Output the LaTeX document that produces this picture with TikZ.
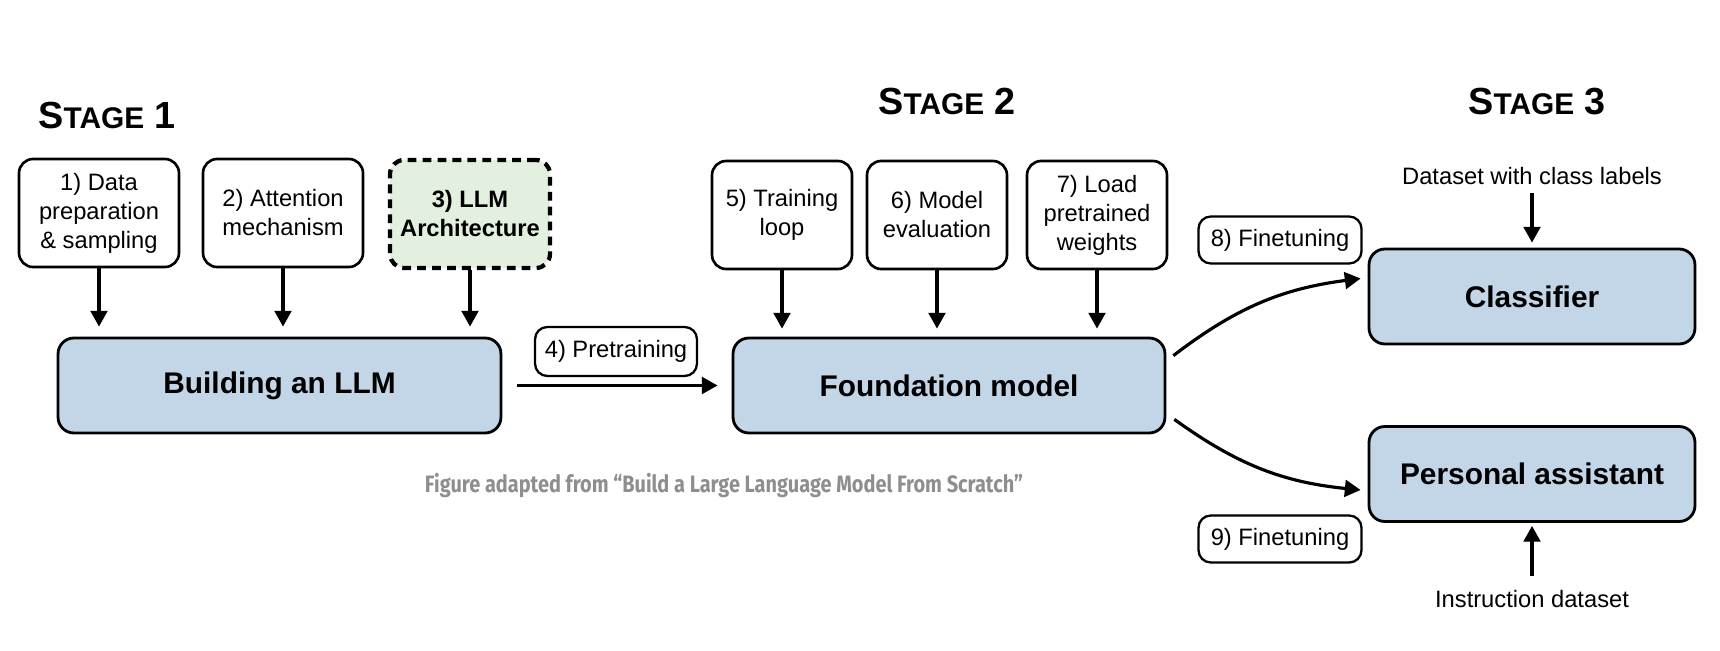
\documentclass[tikz,border=0pt]{standalone}
\usepackage{fontspec}
\setmainfont{Liberation Sans}
\newfontfamily\notefont[FakeStretch=0.84]{Fira Sans}
\usepackage{tikz}
\usetikzlibrary{positioning,calc,arrows.meta}
\definecolor{modelc}{HTML}{C2D6E8}
\definecolor{archc}{HTML}{E3EFDF}
\definecolor{notec}{HTML}{8E8E8E}
\newcommand{\stagetitle}[1]{{\bfseries\fontsize{21.5}{25}\selectfont S\fontsize{17}{20}\selectfont TAGE\fontsize{21.5}{25}\selectfont\ #1}}

\begin{document}
\begin{tikzpicture}[x=0.02cm, y=0.02cm, font=\fontsize{13.5}{16.5}\selectfont,
  stepbox/.style={draw, line width=1.5pt, rounded corners=8pt, fill=white, align=center,
    inner sep=0pt, minimum width=3.2cm, minimum height=2.16cm},
  modelbox/.style={draw, line width=1.6pt, rounded corners=9pt, fill=modelc, inner sep=0pt,
    minimum height=1.9cm, font=\fontsize{17}{20}\selectfont\bfseries},
  tagbox/.style={draw, line width=1.3pt, rounded corners=7pt, fill=white, inner sep=0pt,
    minimum width=3.26cm, minimum height=0.94cm},
  arr/.style={-{Triangle[length=9pt,width=9.5pt]}, line width=1.8pt}]
  \useasboundingbox (0,0) rectangle (1720,650);

  % stage titles
  \node[anchor=base west, inner sep=0pt] (s1) at (38,521) {\stagetitle{1}};
  \node[anchor=base west, inner sep=0pt] (s2) at (878,535) {\stagetitle{2}};
  \node[anchor=base west, inner sep=0pt] (s3) at (1468,535) {\stagetitle{3}};

  % stage 1
  \node[stepbox] (b1) at (99,437) {1) Data\\preparation\\\& sampling};
  \node[stepbox] (b2) at (283,437) {2) Attention\\mechanism};
  \node[stepbox, fill=archc, dash pattern=on 5pt off 3.5pt, line width=2.4pt,
    font=\fontsize{13.5}{16.5}\selectfont\bfseries] (b3) at (470,436) {3) LLM\\Architecture};
  \node[modelbox, minimum width=8.86cm] (build) at (279.5,264.5) {Building an LLM};

  % stage 2
  \foreach \n/\x/\t in {b5/782/{5) Training\\loop}, b6/937/{6) Model\\evaluation},
      b7/1097/{7) Load\\pretrained\\weights}}
    \node[stepbox, minimum width=2.8cm] (\n) at (\x,435) {\t};
  \node[modelbox, minimum width=8.64cm] (found) at (949,264.5) {Foundation model};
  \node[tagbox, minimum width=3.24cm, minimum height=0.98cm] (pre) at (616,298.5) {4) Pretraining};

  % stage 3
  \node[modelbox, minimum width=6.52cm] (cls) at (1532,353.5) {Classifier};
  \node[modelbox, minimum width=6.52cm] (pa) at (1532,176) {Personal assistant};
  \node (dcl) at (1532,474) {Dataset with class labels};
  \node (ins) at (1532,51) {Instruction dataset};
  \node[tagbox] (ft8) at (1280,410) {8) Finetuning};
  \node[tagbox] (ft9) at (1280,111) {9) Finetuning};

  \node[font=\notefont\bfseries\fontsize{13.5}{16}\selectfont, text=notec] (note) at (724,164)
    {Figure adapted from “Build a Large Language Model From Scratch”};

  % connectors
  \foreach \n in {b1,b2,b3}
    \draw[arr, shorten >=0.2cm] (\n.south) -- (\n.south |- build.north);
  \foreach \n in {b5,b6,b7}
    \draw[arr, shorten >=0.16cm] (\n.south) -- (\n.south |- found.north);
  \draw[arr, shorten <=0.3cm, shorten >=0.28cm] (build.east) -- (found.west);
  \draw[arr] ($(found.north east)+(7,-19)$) to[bend left=15] ($(cls.west)+(-7,18)$);
  \draw[arr] ($(found.south east)+(8,15)$) to[bend right=15] ($(pa.west)+(-7,-16)$);
  \draw[arr, shorten <=0.05cm, shorten >=0.1cm] (dcl.south) -- (cls.north);
  \draw[arr, shorten <=0.16cm, shorten >=0.06cm] (ins.north) -- (pa.south);
\end{tikzpicture}
\end{document}
